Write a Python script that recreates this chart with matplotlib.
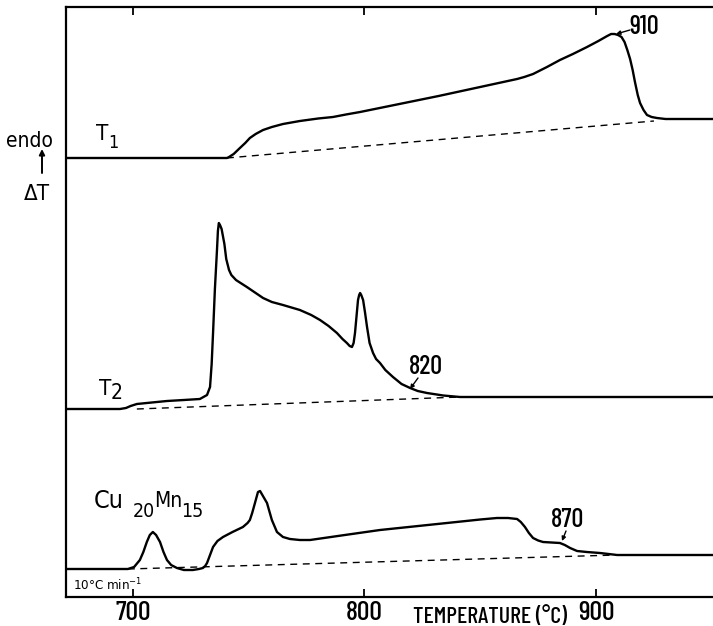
import matplotlib
matplotlib.use("Agg")
import matplotlib.pyplot as plt

# DTA traces, temperature in deg C, signal in arbitrary units above each trace's own baseline
T1_TEMP = [671, 740.6, 741.5, 743.5, 746.2, 748.5, 750.5, 753, 756.2, 760, 764.8, 772.1, 780,
           786.4, 792, 798.1, 832, 865.9, 869, 872.8, 878.8, 884.4, 890, 896.1, 901, 904.8,
           906.5, 908, 909.5, 911, 912.3, 913.5, 914.7, 915.8, 916.8, 918, 919.0, 920.5, 922.0,
           924, 926.3, 930, 951]
T1_DT = [0, 0, 1, 4, 10, 15, 20, 24, 28, 31, 34, 37, 39.5,
         41, 43.5, 46, 62, 79, 81, 84, 91, 98, 104, 111, 117, 122,
         124, 124, 123, 121, 116, 108, 99, 88, 76, 63, 55, 48, 43,
         41, 40, 39, 39]

T2_TEMP = [671, 694.4, 697, 699, 701.7, 706, 714.7, 722, 728.9, 732, 733.3, 734.0, 734.6, 735.4,
           736.3, 736.7, 737.1, 737.6, 738.3, 739.5, 740.3, 741.5, 742.5, 744.5, 746.5, 749.2,
           756.2, 760, 764.8, 772.1, 777, 780.8, 784.5, 788.1, 790.5, 792.4, 793.6, 794.6, 795.3,
           795.9, 797.2, 797.7, 798.1, 798.6, 799.4, 800.2, 801.1, 802.2, 803.7, 805, 806.7, 809,
           812.3, 816, 819.7, 823, 827, 834, 841.3, 951]
T2_DT = [0, 0, 1, 3, 5, 6, 8, 9, 10, 14, 22, 45, 76, 120,
         159, 178, 186, 184, 180, 165, 150, 139, 134, 129, 126, 122,
         111, 107, 104, 99, 94, 89, 83, 76, 70, 66, 63, 62, 66,
         76, 109, 114, 116, 114, 109, 97, 82, 66, 56, 50, 46, 39,
         32, 25, 21, 18, 16, 13.5, 12, 12]

CU_TEMP = [671, 697.8, 700.5, 703.0, 704.5, 706.0, 707.3, 708.6, 710.0, 711.7, 713.2, 714.7,
           716.5, 719.0, 722, 725.9, 728.5, 730.2, 731.2, 732.0, 733.3, 734.6, 736.5, 738.9, 743,
           747.5, 749.5, 750.5, 751.5, 752.7, 754.0, 754.9, 755.9, 757.9, 760.0, 762.2, 764.8,
           767.8, 772.1, 776.5, 790, 806.7, 835.6, 850, 857.2, 862, 865.9, 867.5, 869.3, 871,
           872.8, 875, 877.1, 884.4, 886.5, 888.8, 891.8, 896, 901.7, 909.1, 951]
CU_DT = [0, 0, 2, 9, 17, 27, 34, 37, 34, 27, 17, 9,
         4, 1, -1, -1, 0, 1, 3, 6, 14, 22, 28, 32, 37,
         42, 46, 49, 56, 66, 77, 78, 74, 66, 49, 37, 32,
         30, 29, 29, 33.5, 39, 46, 49.5, 51, 51, 50, 47, 42, 36,
         31, 28.5, 27, 26, 24, 21, 18, 17, 16, 14, 14]

# dashed interpolated baselines (start, end)
T1_BASE_TEMP = [740.6, 925.0]
T1_BASE_DT = [0, 37]
T2_BASE_TEMP = [701.7, 841.3]
T2_BASE_DT = [0, 12]
CU_BASE_TEMP = [697.8, 909.1]
CU_BASE_DT = [0, 14]

TICKS = [700, 800, 900]
TICK_LABELS = ["700", "800", "900"]

# vertical stacking of the three traces
T1_OFFSET = 439
T2_OFFSET = 188
CU_OFFSET = 28

W, H = 713, 626
LETTERING = ["DejaVu Sans", "Liberation Sans"]
NUMBERS = ["Barlow Condensed", "DejaVu Sans"]
plt.rcParams["font.family"] = LETTERING
plt.rcParams["font.stretch"] = "condensed"
plt.rcParams["mathtext.fontset"] = "custom"
plt.rcParams["mathtext.rm"] = "DejaVu Sans"
plt.rcParams["mathtext.it"] = "DejaVu Sans"


def fp(x, y):
    """pixel position measured from the top-left corner -> figure pixels"""
    return (x, H - y)


def main():
    fig = plt.figure(figsize=(W / 100, H / 100), dpi=100)
    ax = fig.add_axes([66 / W, 1 - 597 / H, (W - 66) / W, 590 / H])

    for temp, dt, off in [(T1_TEMP, T1_DT, T1_OFFSET), (T2_TEMP, T2_DT, T2_OFFSET),
                          (CU_TEMP, CU_DT, CU_OFFSET)]:
        ax.plot(temp, [off + v for v in dt], color="black", lw=1.7,
                solid_joinstyle="round", solid_capstyle="butt")

    for temp, dt, off in [(T1_BASE_TEMP, T1_BASE_DT, T1_OFFSET),
                          (T2_BASE_TEMP, T2_BASE_DT, T2_OFFSET),
                          (CU_BASE_TEMP, CU_BASE_DT, CU_OFFSET)]:
        ax.plot(temp, [off + v for v in dt], color="black", lw=1.0, ls=(0, (5, 4)))

    ax.set_xlim(671.1, 950.5)
    ax.set_ylim(0, 590)
    ax.spines["right"].set_visible(False)
    for s in ["left", "top", "bottom"]:
        ax.spines[s].set_linewidth(1.6)
    ax.set_yticks([])
    ax.set_xticks(TICKS)
    ax.set_xticklabels(TICK_LABELS, family=NUMBERS, weight="medium")
    ax.tick_params(axis="x", direction="in", length=6, width=1.3, top=True,
                   labelsize=20, pad=3)

    def txt(x, y, s, size, **extra):
        fig.text(*[a / b for a, b in zip(fp(x, y), (W, H))], s, fontsize=size, **extra)

    # axis title
    txt(413, 623, "TEMPERATURE (°C)", 17, ha="left", va="baseline", family=NUMBERS,
        weight="medium")

    # y direction label
    txt(6, 147, "endo", 15, ha="left", va="baseline")
    txt(24, 200, "ΔT", 16, ha="left", va="baseline")
    ax.annotate("", xy=fp(42, 149), xycoords="figure pixels",
                xytext=fp(42, 173), textcoords="figure pixels",
                arrowprops=dict(arrowstyle="-|>", lw=1.4, color="black",
                                mutation_scale=8, shrinkA=0, shrinkB=0))

    # trace names
    txt(96, 140, "T", 16, ha="left", va="baseline")
    txt(108, 148, "1", 13, ha="left", va="baseline")
    txt(99, 395, "T", 16, ha="left", va="baseline")
    txt(111, 399, "2", 15, ha="left", va="baseline")
    txt(94, 508, "Cu", 18, ha="left", va="baseline")
    txt(133, 517, "20", 14, ha="left", va="baseline")
    txt(154, 507, "Mn", 15, ha="left", va="baseline")
    txt(181, 517, "15", 14, ha="left", va="baseline")

    txt(73, 590, r"10°C min$^{-1}$", 9.5, ha="left", va="baseline")

    # temperature marks
    for label, lab_xy, start, tip in [("910", (644, 27), (630, 30), (616, 34)),
                                      ("820", (426, 367), (418, 378), (410, 389)),
                                      ("870", (568, 520), (566, 531), (562, 541))]:
        txt(*lab_xy, label, 19, ha="center", va="center", family=NUMBERS, weight="medium")
        ax.annotate("", xy=fp(*tip), xycoords="figure pixels",
                    xytext=fp(*start), textcoords="figure pixels",
                    arrowprops=dict(arrowstyle="-|>", lw=1.0, color="black",
                                    mutation_scale=6, shrinkA=0, shrinkB=0))

    fig.savefig("out.png", dpi=100)


if __name__ == "__main__":
    main()
